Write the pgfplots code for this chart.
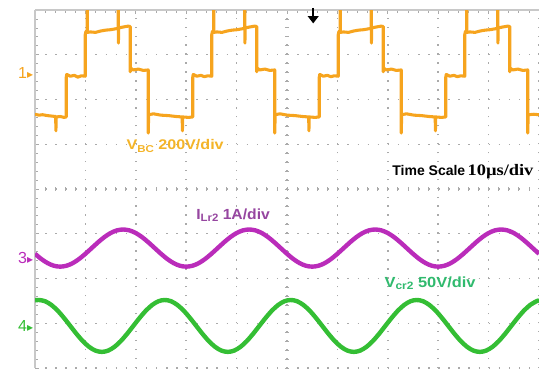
\documentclass[border=0pt]{standalone}
\usepackage{fontspec}
\setmainfont{Liberation Sans}
\newfontfamily\serifb{Liberation Serif}
\newfontfamily\dejavu{DejaVu Sans}
\usepackage{graphicx}
\usepackage{pgfplots}
\pgfplotsset{compat=1.18}
\usetikzlibrary{arrows.meta}
\definecolor{orangeT}{RGB}{246,164,30}
\definecolor{orangeL}{RGB}{244,180,40}
\definecolor{purpT}{RGB}{186,44,186}
\definecolor{purpL}{RGB}{150,70,160}
\definecolor{greenT}{RGB}{52,190,52}
\definecolor{greenL}{RGB}{48,186,110}
\definecolor{gridc}{RGB}{170,170,170}
\definecolor{gridl}{RGB}{200,200,200}
\begin{document}
\begin{tikzpicture}
\useasboundingbox (0,0) rectangle (404.25pt,278.25pt);
\foreach \i in {0,...,40} \draw[gridc, line width=0.6pt] (214.05pt,{2.25pt+\i*6.7125pt}) -- ++(2.4pt,0);
\foreach \i in {0,...,50} \draw[gridc, line width=0.6pt] ({26.25pt+\i*7.56pt},135.3pt) -- ++(0,2.4pt);
\begin{axis}[
 at={(26.25pt,2.25pt)}, anchor=south west,
 scale only axis, width=378pt, height=268.5pt,
 xmin=0, xmax=10, ymin=0, ymax=8,
 axis x line*=top, axis y line*=left,
 axis line style={gridl, line width=0.8pt, -},
 xtick={0,...,10}, ytick={0,...,8},
 minor x tick num=4, minor y tick num=4,
 xticklabels={}, yticklabels={},
 tick align=inside, major tick length=3pt, minor tick length=2.4pt,
 tick style={gridc, line width=0.6pt},
 grid=major,
 x grid style={gridc, line width=1.1pt, dash pattern=on 1.1pt off 5.61pt},
 y grid style={gridc, line width=1.1pt, dash pattern=on 1.1pt off 6.46pt},
 clip mode=individual,
]
% V_BC (orange)
\addplot[orangeT, line width=2.3pt, line join=round] coordinates {
(0,5.67)(0.08,5.65)(0.15,5.66)(0.25,5.64)(0.33,5.63)(0.41,5.62)(0.415,5.30)(0.42,5.61)(0.5,5.62)(0.58,5.60)(0.62,5.61)
(0.62,6.50)(0.63,6.56)(0.7,6.52)(0.78,6.54)(0.85,6.50)(0.92,6.53)(0.997,6.52)
(0.997,7.45)(1.01,7.52)(1.035,7.50)(1.037,8.1)(1.04,7.50)(1.1,7.51)(1.2,7.50)(1.3,7.53)(1.4,7.55)(1.5,7.56)(1.6,7.58)(1.65,7.59)(1.652,8.1)(1.655,7.26)(1.66,7.60)(1.75,7.62)(1.85,7.64)(1.89,7.63)
(1.89,6.62)(1.9,6.70)(1.95,6.66)(2.05,6.68)(2.15,6.65)(2.247,6.66)
(2.247,5.25)(2.255,5.66)(2.35,5.68)(2.5,5.65)(2.65,5.64)(2.8,5.62)(2.92,5.61)(2.925,5.30)(2.93,5.61)(3.05,5.60)(3.13,5.61)
(3.13,6.50)(3.14,6.56)(3.21,6.52)(3.29,6.54)(3.36,6.51)(3.43,6.53)(3.507,6.52)
(3.507,7.45)(3.52,7.52)(3.545,7.50)(3.547,8.1)(3.55,7.50)(3.61,7.51)(3.71,7.50)(3.81,7.53)(3.91,7.55)(4.01,7.56)(4.11,7.58)(4.16,7.59)(4.162,8.1)(4.165,7.26)(4.17,7.60)(4.26,7.62)(4.36,7.64)(4.40,7.63)
(4.40,6.62)(4.41,6.70)(4.46,6.66)(4.56,6.68)(4.66,6.65)(4.757,6.66)
(4.757,5.25)(4.765,5.66)(4.86,5.68)(5.01,5.65)(5.16,5.64)(5.31,5.62)(5.43,5.61)(5.435,5.30)(5.44,5.61)(5.56,5.60)(5.64,5.61)
(5.64,6.50)(5.65,6.56)(5.72,6.52)(5.80,6.54)(5.87,6.51)(5.94,6.53)(6.017,6.52)
(6.017,7.45)(6.03,7.52)(6.055,7.50)(6.057,8.1)(6.06,7.50)(6.12,7.51)(6.22,7.50)(6.32,7.53)(6.42,7.55)(6.52,7.56)(6.62,7.58)(6.67,7.59)(6.672,8.1)(6.675,7.26)(6.68,7.60)(6.77,7.62)(6.87,7.64)(6.91,7.63)
(6.91,6.62)(6.92,6.70)(6.97,6.66)(7.07,6.68)(7.17,6.65)(7.267,6.66)
(7.267,5.25)(7.275,5.66)(7.37,5.68)(7.52,5.65)(7.67,5.64)(7.82,5.62)(7.94,5.61)(7.945,5.30)(7.95,5.61)(8.07,5.60)(8.15,5.61)
(8.15,6.50)(8.16,6.56)(8.23,6.52)(8.31,6.54)(8.38,6.51)(8.45,6.53)(8.527,6.52)
(8.527,7.45)(8.54,7.52)(8.565,7.50)(8.567,8.1)(8.57,7.50)(8.63,7.51)(8.73,7.50)(8.83,7.53)(8.93,7.55)(9.03,7.56)(9.13,7.58)(9.18,7.59)(9.182,8.1)(9.185,7.26)(9.19,7.60)(9.28,7.62)(9.38,7.64)(9.42,7.63)
(9.42,6.62)(9.43,6.70)(9.48,6.66)(9.58,6.68)(9.68,6.65)(9.777,6.66)
(9.777,5.25)(9.785,5.66)(9.9,5.67)(10,5.66)
};
% I_Lr2 (purple)
\addplot[purpT, line width=3.3pt, smooth, line join=round] coordinates {
(0,2.552)(0.125,2.436)(0.25,2.344)(0.375,2.285)(0.5,2.265)(0.625,2.285)(0.75,2.344)(0.875,2.436)(1,2.552)(1.125,2.68)(1.25,2.808)(1.375,2.924)(1.5,3.016)(1.625,3.075)(1.75,3.095)(1.875,3.075)(2,3.016)(2.125,2.924)(2.25,2.808)(2.375,2.68)
(2.5,2.552)(2.625,2.436)(2.75,2.344)(2.875,2.285)(3,2.265)(3.125,2.285)(3.25,2.344)(3.375,2.436)(3.5,2.552)(3.625,2.68)(3.75,2.808)(3.875,2.924)(4,3.016)(4.125,3.075)(4.25,3.095)(4.375,3.075)(4.5,3.016)(4.625,2.924)(4.75,2.808)(4.875,2.68)
(5,2.552)(5.125,2.436)(5.25,2.344)(5.375,2.285)(5.5,2.265)(5.625,2.285)(5.75,2.344)(5.875,2.436)(6,2.552)(6.125,2.68)(6.25,2.808)(6.375,2.924)(6.5,3.016)(6.625,3.075)(6.75,3.095)(6.875,3.075)(7,3.016)(7.125,2.924)(7.25,2.808)(7.375,2.68)
(7.5,2.552)(7.625,2.436)(7.75,2.344)(7.875,2.285)(8,2.265)(8.125,2.285)(8.25,2.344)(8.375,2.436)(8.5,2.552)(8.625,2.68)(8.75,2.808)(8.875,2.924)(9,3.016)(9.125,3.075)(9.25,3.095)(9.375,3.075)(9.5,3.016)(9.625,2.924)(9.75,2.808)(9.875,2.68)(10,2.552)
};
% V_cr2 (green)
\addplot[greenT, line width=3.3pt, smooth, line join=round] coordinates {
(0,1.51)(0.075,1.52)(0.2,1.492)(0.325,1.409)(0.45,1.281)(0.575,1.119)(0.7,0.94)(0.825,0.761)(0.95,0.599)(1.075,0.471)(1.2,0.388)(1.325,0.36)(1.45,0.388)(1.575,0.471)(1.7,0.599)(1.825,0.761)(1.95,0.94)(2.075,1.119)(2.2,1.281)(2.325,1.409)(2.45,1.492)
(2.575,1.52)(2.7,1.492)(2.825,1.409)(2.95,1.281)(3.075,1.119)(3.2,0.94)(3.325,0.761)(3.45,0.599)(3.575,0.471)(3.7,0.388)(3.825,0.36)(3.95,0.388)(4.075,0.471)(4.2,0.599)(4.325,0.761)(4.45,0.94)(4.575,1.119)(4.7,1.281)(4.825,1.409)(4.95,1.492)
(5.075,1.52)(5.2,1.492)(5.325,1.409)(5.45,1.281)(5.575,1.119)(5.7,0.94)(5.825,0.761)(5.95,0.599)(6.075,0.471)(6.2,0.388)(6.325,0.36)(6.45,0.388)(6.575,0.471)(6.7,0.599)(6.825,0.761)(6.95,0.94)(7.075,1.119)(7.2,1.281)(7.325,1.409)(7.45,1.492)
(7.575,1.52)(7.7,1.492)(7.825,1.409)(7.95,1.281)(8.075,1.119)(8.2,0.94)(8.325,0.761)(8.45,0.599)(8.575,0.471)(8.7,0.388)(8.825,0.36)(8.95,0.388)(9.075,0.471)(9.2,0.599)(9.325,0.761)(9.45,0.94)(9.575,1.119)(9.7,1.281)(9.825,1.409)(9.95,1.492)(10,1.51)
};
% labels
\node[text=orangeL, font=\bfseries\fontsize{10.5}{12}\selectfont] at (axis cs:2.78,4.96)
  {\scalebox{1.15}[1]{V\raisebox{-0.3ex}{\fontsize{7.5}{8}\selectfont BC} 200V/div}};
\node[text=black, font=\bfseries\fontsize{10.5}{12}\selectfont] at (axis cs:8.49,4.38)
  {Time Scale\,{\serifb\bfseries\fontsize{12}{14}\selectfont\scalebox{1.15}[1]{10µs/div}}};
\node[text=purpL, font=\bfseries\fontsize{11}{13}\selectfont] at (axis cs:3.93,3.42)
  {\scalebox{1.07}[1]{I\raisebox{-0.3ex}{\fontsize{8}{9}\selectfont Lr2} 1A/div}};
\node[text=greenL, font=\bfseries\fontsize{11}{13}\selectfont] at (axis cs:7.84,1.90)
  {\scalebox{1.12}[1]{V\raisebox{-0.3ex}{\fontsize{8}{9}\selectfont cr2} 50V/div}};
% channel markers
\node[anchor=east, inner sep=0pt, xshift=-1.2pt, text=orangeT, font=\fontsize{12}{14}\selectfont] at (axis cs:0,6.59) {1{\dejavu\fontsize{9}{10}\selectfont ▸}};
\node[anchor=east, inner sep=0pt, xshift=-1.2pt, text=purpT, font=\fontsize{12}{14}\selectfont] at (axis cs:0,2.46) {3{\dejavu\fontsize{9}{10}\selectfont ▸}};
\node[anchor=east, inner sep=0pt, xshift=-1.2pt, text=greenT, font=\fontsize{12}{14}\selectfont] at (axis cs:0,0.94) {4{\dejavu\fontsize{9}{10}\selectfont ▸}};
% trigger marker
\draw[black, line width=1.8pt, -{Triangle[width=8pt,length=5.5pt]}] (axis cs:5.52,8.05) -- (axis cs:5.52,7.70);
\end{axis}
\end{tikzpicture}
\end{document}
